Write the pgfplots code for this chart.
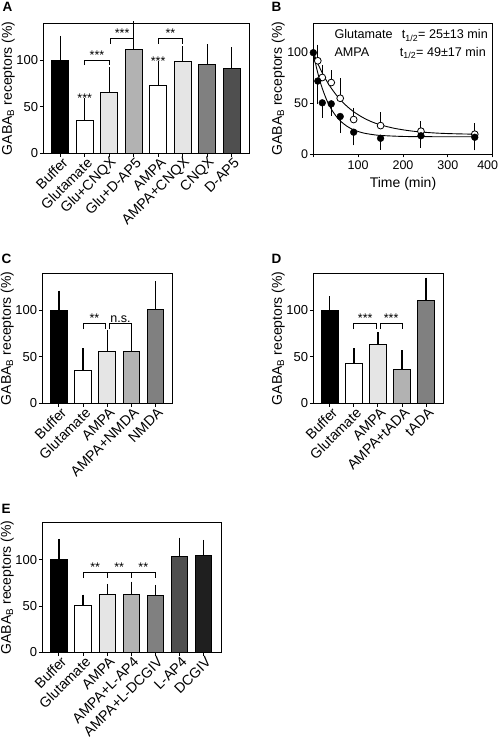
\documentclass[border=0pt]{standalone}
\usepackage{fontspec}
\setmainfont{Liberation Sans}
\usepackage{pgfplots}
\pgfplotsset{compat=1.18}

\definecolor{gA}{gray}{0.90}
\definecolor{gB}{gray}{0.70}
\definecolor{gC}{gray}{0.50}
\definecolor{gD}{gray}{0.31}
\definecolor{gE}{gray}{0.12}

\newcommand\gb[4]{\addplot[ybar, bar width=0.68, bar shift=0pt, fill=#4, draw=black, line width=0.9bp,
  error bars/.cd, y dir=plus, y explicit,
  error bar style={line width=1.2bp, black},
  error mark options={line width=1.2bp, mark size=5bp, black}]
  coordinates {(#1,#2) +- (0,#3)};}

\newcommand\stars[3]{\node[anchor=base, inner sep=0pt, font=\fontsize{12.5bp}{14bp}\selectfont] at (axis cs:#1,#2) {#3};}
\newcommand\brk[4]{\draw[line width=0.9bp] (axis cs:#1,#4) -- (axis cs:#1,#3) -- (axis cs:#2,#3) -- (axis cs:#2,#4);}

\pgfplotsset{
  common/.style={
    scale only axis, anchor=south west, clip=false,
    font=\fontsize{14bp}{16bp}\selectfont,
    /pgf/number format/assume math mode=true,
    axis line style={line width=0.9bp, black},
    tick align=outside, xtick pos=bottom, ytick pos=left,
    major tick length=3.5bp,
    tick style={line width=0.9bp, black},
    yticklabel style={inner sep=1.5bp, font=\fontsize{13bp}{15bp}\selectfont},
    ylabel={GABA\textsubscript{B} receptors (\%)},
    ylabel style={at={([xshift=-35bp]rel axis cs:0,0.5)}, anchor=center, inner sep=0pt},
  },
  barpanel/.style={
    common, ymin=0, ymax=140, ytick={0,50,100},
    xmin=-0.69, xmax=#1, xtick={0,...,20},
    xticklabel style={font=\fontsize{14.2bp}{16bp}\selectfont, rotate=45, anchor=east, inner sep=1bp, yshift=-6bp, xshift=2bp},
  },
}

\begin{document}
\begin{tikzpicture}[x=1bp,y=1bp]
\useasboundingbox (0,0) rectangle (499,740);

% ---------- A ----------
\begin{axis}[barpanel=7.72, at={(43.3bp,586.7bp)}, width=206bp, height=130bp,
  xticklabels={Buffer,Glutamate,Glu+CNQX,Glu+D-AP5,AMPA,AMPA+CNQX,CNQX,D-AP5}]
\gb{0}{100}{21}{black}
\gb{1}{35}{19}{white}
\gb{2}{66}{21}{gA}
\gb{3}{112}{25}{gB}
\gb{4}{73}{21}{white}
\gb{5}{99}{11}{gA}
\gb{6}{96}{16}{gC}
\gb{7}{91}{18}{gD}
\stars{1}{55}{***}
\stars{4}{95}{***}
\brk{1}{2}{100.5}{95}
\stars{1.5}{101.5}{***}
\brk{2.06}{3}{124}{118}
\stars{2.53}{125}{***}
\brk{4}{5}{124}{118}
\stars{4.5}{125}{**}
\end{axis}

% ---------- B ----------
\begin{axis}[common, at={(313.3bp,586bp)}, width=179.4bp, height=130.7bp,
  xmin=0, xmax=400, ymin=0, ymax=129,
  xtick={0,100,200,300}, xticklabels={,100,200,300},
  extra x ticks={400}, extra x tick labels={400},
  extra x tick style={xticklabel style={xshift=-5bp}},
  xticklabel style={font=\fontsize{12.5bp}{14bp}\selectfont},
  yticklabel style={font=\fontsize{12.5bp}{14bp}\selectfont},
  ytick={0,50,100}, xlabel={Time (min)},
  xlabel style={inner sep=1bp, yshift=4bp}]
% fitted curves
\addplot[black, line width=0.9bp, smooth] coordinates {
 (0,100) (5,89.3) (10,79.9) (15,71.8) (20,64.7) (30,53.1) (40,44.4) (50,37.8)
 (60,32.7) (75,27.4) (90,23.8) (110,20.9) (130,19.3) (150,18.3) (200,17.3)
 (250,17.1) (300,17.0) (365,17.0)};
\addplot[black, line width=0.9bp, smooth] coordinates {
 (0,100) (10,89.3) (20,80.0) (30,72.0) (40,65.0) (50,58.9) (60,53.6) (75,47.1)
 (90,41.7) (110,36.1) (130,31.8) (150,28.7) (180,25.4) (210,23.2) (240,21.7)
 (280,20.5) (320,19.9) (365,19.5)};
% AMPA (open)
\addplot[only marks, mark=*, mark size=3.4bp, mark options={fill=white, draw=black, line width=0.8bp},
  error bars/.cd, y dir=plus, y explicit,
  error bar style={line width=1bp, black},
  error mark options={line width=1bp, mark size=3bp, black}]
  coordinates {(10,92) +- (0,13) (20,75.5) +- (0,9.5) (40,70.5) +- (0,9) (60,55) +- (0,17)
   (90,34) +- (0,8.5) (150,28) +- (0,10) (240,22.5) +- (0,7) (360,19.5) +- (0,8)};
% Glutamate (filled)
\addplot[only marks, mark=*, mark size=3.4bp, mark options={fill=black, draw=black},
  error bars/.cd, y dir=minus, y explicit,
  error bar style={line width=1bp, black},
  error mark options={line width=1bp, mark size=3bp, black}]
  coordinates {(0,100) +- (0,0) (10,72) +- (0,20) (20,50.5) +- (0,12) (40,49.5) +- (0,9)
   (60,37) +- (0,13.5) (90,21.5) +- (0,10) (150,15.5) +- (0,8.5) (240,18) +- (0,9) (360,16.5) +- (0,10)};
\end{axis}
\begin{scope}[font=\fontsize{12.6bp}{14bp}\selectfont]
\node[anchor=base west, inner sep=0pt] at (334.3,701) {Glutamate};
\node[anchor=base east, inner sep=0pt] at (488,701) {t\textsubscript{1/2}= 25±13 min};
\node[anchor=base west, inner sep=0pt] at (334.3,683.3) {AMPA};
\node[anchor=base east, inner sep=0pt] at (486,683.3) {t\textsubscript{1/2}= 49±17 min};
\end{scope}

% ---------- C ----------
\begin{axis}[barpanel=4.72, at={(42.3bp,336.7bp)}, width=130.4bp, height=130bp,
  xticklabels={Buffer,Glutamate,AMPA,AMPA+NMDA,NMDA}]
\gb{0}{100}{16}{black}
\gb{1}{35}{19}{white}
\gb{2}{56}{18}{gA}
\gb{3}{56}{20}{gB}
\gb{4}{101}{25}{gC}
\brk{1}{1.94}{86}{80}
\stars{1.47}{87}{**}
\brk{2.1}{3}{86}{80}
\stars{2.55}{87.5}{n.s.}
\end{axis}

% ---------- D ----------
\begin{axis}[barpanel=4.72, at={(313.3bp,336.7bp)}, width=130bp, height=130bp,
  xticklabels={Buffer,Glutamate,AMPA,AMPA+tADA,tADA}]
\gb{0}{100}{10}{black}
\gb{1}{43}{11}{white}
\gb{2}{63}{8}{gA}
\gb{3}{36}{16}{gB}
\gb{4}{111}{19}{gC}
\brk{1}{1.94}{86}{80}
\stars{1.47}{87}{***}
\brk{2.1}{3}{86}{80}
\stars{2.55}{87}{***}
\end{axis}

% ---------- E ----------
\begin{axis}[barpanel=6.72, at={(42.3bp,87.7bp)}, width=178.7bp, height=129.6bp,
  xticklabels={Buffer,Glutamate,AMPA,AMPA+L-AP4,AMPA+L-DCGIV,L-AP4,DCGIV}]
\gb{0}{100}{17}{black}
\gb{1}{51}{6}{white}
\gb{2}{62}{6.5}{gA}
\gb{3}{63}{8}{gB}
\gb{4}{61}{6.5}{gC}
\gb{5}{104}{14.5}{gD}
\gb{6}{105}{11}{gE}
\draw[line width=0.9bp] (axis cs:1,80) -- (axis cs:1,86) -- (axis cs:4,86) -- (axis cs:4,80);
\draw[line width=0.9bp] (axis cs:2,86) -- (axis cs:2,80);
\draw[line width=0.9bp] (axis cs:3,86) -- (axis cs:3,80);
\stars{1.5}{87}{**}
\stars{2.5}{87}{**}
\stars{3.5}{87}{**}
\end{axis}

% frames of the panels
\begin{scope}[line width=0.9bp, black]
\draw (43.3,586.7) rectangle ++(206,130);
\draw (313.3,586) rectangle ++(179.4,130.7);
\draw (42.3,336.7) rectangle ++(130.4,130);
\draw (313.3,336.7) rectangle ++(130,130);
\draw (42.3,87.7) rectangle ++(178.7,129.6);
\end{scope}

% panel letters
\begin{scope}[font=\bfseries\fontsize{13.5bp}{15bp}\selectfont]
\node[anchor=base west, inner sep=0pt] at (2.5,728.5) {A};
\node[anchor=base west, inner sep=0pt] at (271.5,728) {B};
\node[anchor=base west, inner sep=0pt] at (1.5,476) {C};
\node[anchor=base west, inner sep=0pt] at (271.5,476) {D};
\node[anchor=base west, inner sep=0pt] at (1.5,226) {E};
\end{scope}
\end{tikzpicture}
\end{document}
